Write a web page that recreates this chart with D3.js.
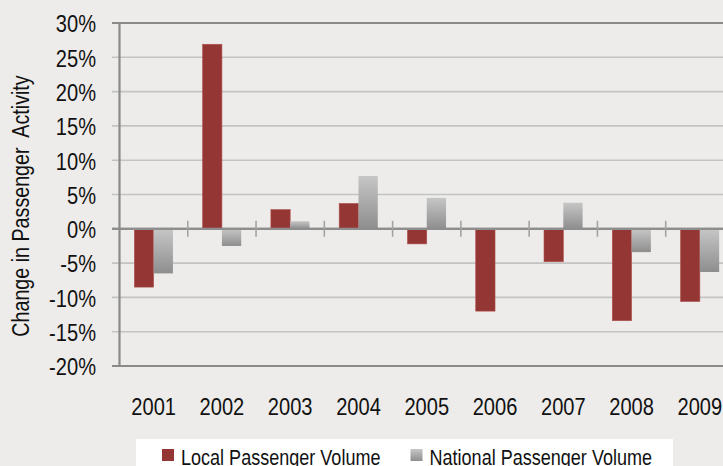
<!DOCTYPE html>
<html>
<head>
<meta charset="utf-8">
<script src="https://cdn.jsdelivr.net/npm/d3@7"></script>
<style>
  html, body { margin: 0; padding: 0; background: #edecea; overflow: hidden; }
  svg { display: block; }
  text { font-family: "Liberation Sans", Arial, sans-serif; fill: #111; }
</style>
</head>
<body>
<svg id="chart" width="723" height="466"></svg>
<script>
// Year-over-year change in passenger activity (percent)
const years = ["2001", "2002", "2003", "2004", "2005", "2006", "2007", "2008", "2009"];
const localVolume = [-8.5, 26.9, 2.8, 3.7, -2.2, -12.0, -4.8, -13.4, -10.6];
const nationalVolume = [-6.5, -2.5, 1.1, 7.7, 4.5, 0, 3.8, -3.4, -6.3];
const seriesNames = ["Local Passenger Volume", "National Passenger Volume"];
const yTicks = [-20, -15, -10, -5, 0, 5, 10, 15, 20, 25, 30];

const svg = d3.select("#chart");
const W = 723, H = 466;
const NARROW = 0.82; // horizontal squeeze for a narrow face

svg.append("rect").attr("width", W).attr("height", H).attr("fill", "#edecea");

const defs = svg.append("defs");
const grad = defs.append("linearGradient")
  .attr("id", "grayBar").attr("x1", 0).attr("y1", 0).attr("x2", 0).attr("y2", 1);
grad.append("stop").attr("offset", "0%").attr("stop-color", "#c6c6c6");
grad.append("stop").attr("offset", "100%").attr("stop-color", "#8e8e8e");

// Plot area runs past the right edge of the page
const left = 119.5, right = 734;
const y = d3.scaleLinear().domain([-20, 30]).range([366, 23]);
const x0 = d3.scaleBand().domain(years).range([left, right]).padding(0);
const pairW = 38.6;
const x1 = d3.scaleBand().domain(seriesNames)
  .range([(x0.bandwidth() - pairW) / 2, (x0.bandwidth() + pairW) / 2]).padding(0);

// Horizontal gridlines
svg.append("g").selectAll("line")
  .data(yTicks)
  .join("line")
  .attr("x1", 112).attr("x2", W)
  .attr("y1", d => y(d)).attr("y2", d => y(d))
  .attr("stroke", d => (d === 30 || d === -20) ? "#8a8a8a" : (d === 0 ? "#8e8e8e" : "#c3c3c3"))
  .attr("stroke-width", d => (d === 30 || d === -20 || d === 0) ? 2.2 : 1.6);

// Bars
const rows = years.map((yr, i) => ({ year: yr, values: [
  { key: seriesNames[0], v: localVolume[i] },
  { key: seriesNames[1], v: nationalVolume[i] }
]}));

const groups = svg.append("g").selectAll("g")
  .data(rows)
  .join("g")
  .attr("transform", d => `translate(${x0(d.year)},0)`);

groups.selectAll("rect")
  .data(d => d.values.filter(e => e.v !== 0))
  .join("rect")
  .attr("x", d => x1(d.key))
  .attr("width", x1.bandwidth())
  .attr("y", d => y(Math.max(0, d.v)))
  .attr("height", d => Math.abs(y(d.v) - y(0)))
  .attr("fill", d => d.key === seriesNames[0] ? "#943634" : "url(#grayBar)")
  .attr("stroke", d => d.key === seriesNames[0] ? "#b0514e" : "none")
  .attr("stroke-width", 0.6);

// Zero line drawn over bars, with category dividers
svg.append("line")
  .attr("x1", 112).attr("x2", W)
  .attr("y1", y(0)).attr("y2", y(0))
  .attr("stroke", "#8e8e8e").attr("stroke-width", 2.2);

svg.append("g").selectAll("line")
  .data(years.slice(1))
  .join("line")
  .attr("x1", d => x0(d)).attr("x2", d => x0(d))
  .attr("y1", y(0) - 8).attr("y2", y(0) + 8)
  .attr("stroke", "#a3a3a3").attr("stroke-width", 1.6);

// Value axis line
svg.append("line")
  .attr("x1", left).attr("x2", left)
  .attr("y1", y(30) - 1).attr("y2", y(-20) + 1)
  .attr("stroke", "#8a8a8a").attr("stroke-width", 2.2);

// Tick labels
const yAxis = d3.axisLeft(y).tickValues(yTicks).tickFormat(d => d + "%").tickSize(0).tickPadding(0);
const yG = svg.append("g").attr("transform", "translate(96,0)").call(yAxis);
yG.select(".domain").remove();
yG.attr("font-family", null).attr("font-size", null);
yG.selectAll("text").attr("font-size", 24.5).attr("fill", "#111")
  .attr("dy", "0.36em").attr("transform", `scale(${NARROW},1)`);

const xAxis = d3.axisBottom(x0).tickSize(0).tickPadding(0);
const xG = svg.append("g").attr("transform", "translate(0,397)").call(xAxis);
xG.select(".domain").remove();
xG.attr("font-family", null).attr("font-size", null);
xG.selectAll("text").attr("font-size", 24.5).attr("fill", "#111")
  .attr("dy", "0.72em").attr("transform", `scale(${NARROW},1)`);

// Axis title
svg.append("text")
  .attr("transform", `translate(29,206) rotate(-90) scale(${NARROW},1)`)
  .attr("text-anchor", "middle")
  .attr("font-size", 24)
  .attr("xml:space", "preserve")
  .style("white-space", "pre")
  .text("Change in Passenger  Activity");

// Legend
const leg = svg.append("g");
leg.append("rect").attr("x", 136).attr("y", 439).attr("width", 537).attr("height", 30).attr("fill", "#ffffff");
const legItems = [
  { name: seriesNames[0], fill: "#943634", x: 162 },
  { name: seriesNames[1], fill: "url(#grayBar)", x: 410.5 }
];
const li = leg.selectAll("g").data(legItems).join("g")
  .attr("transform", d => `translate(${d.x},0)`);
li.append("rect").attr("x", 0).attr("y", 449).attr("width", 12).attr("height", 12).attr("fill", d => d.fill);
li.append("text").attr("transform", `translate(19,465) scale(${NARROW},1)`)
  .attr("font-size", 22).text(d => d.name);
</script>
</body>
</html>
